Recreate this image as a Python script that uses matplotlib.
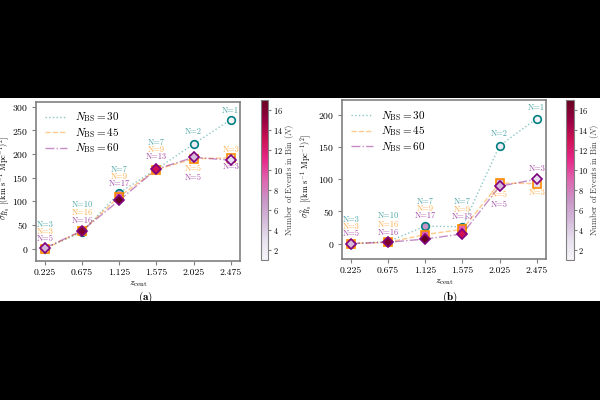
import numpy as np
import matplotlib
matplotlib.use("Agg")
import matplotlib.pyplot as plt
from matplotlib.patches import Rectangle
from matplotlib.colors import Normalize

plt.rcParams['font.family'] = 'serif'
plt.rcParams['font.serif'] = ['cmr10', 'DejaVu Serif']
plt.rcParams['mathtext.fontset'] = 'cm'
plt.rcParams['axes.formatter.use_mathtext'] = True

# data
z_cent = [0.225, 0.675, 1.125, 1.575, 2.025, 2.475]
n_bs = [30, 45, 60]

# panel (a)
sig_a_30 = [0, 35, 118, 168, 221, 273]
sig_a_45 = [0, 37, 110, 167, 190, 192]
sig_a_60 = [1, 38, 102, 168, 193, 187]

# panel (b)
sig_b_30 = [0, 3, 27, 26, 152, 194]
sig_b_45 = [0, 2, 14, 22, 94, 93]
sig_b_60 = [0, 2, 7, 15, 89, 100]

# events per bin
n_30 = [3, 10, 7, 7, 2, 1]
n_45 = [3, 16, 9, 9, 5, 3]
n_60 = [5, 16, 17, 13, 5, 3]

# label offsets in pixels (positive = above the point)
off_a = [[23, 26, 23, 26, 12, 9],
         [16, 18, 16, 19, -10, 8],
         [9, 10, 9, 12, -20, -7]]
off_b = [[24, 26, 24, 25, 12, 11],
         [17, 17, 17, 17, -12, -9],
         [10, 9, 10, 10, -19, 10]]

edge_cols = ['teal', 'darkorange', 'purple']
markers = ['o', 's', 'D']
msizes = [5.5, 5.5, 5.2]
styles = [':', '--', '-.']
cmap = plt.get_cmap('PuRd')
norm = Normalize(vmin=1, vmax=17)
grey = '#808080'

fig = plt.figure(figsize=(6, 4), dpi=100, facecolor='black')
fig.patches.append(Rectangle((0, 0.2475), 1, 0.508, transform=fig.transFigure,
                             facecolor='white', edgecolor='none', zorder=-10))


def draw_panel(ax, cax, series, counts, offsets, ylim, yticks, tag, xc, ylab_x, cblab_x):
    for i in range(3):
        ax.plot(z_cent, series[i], ls=styles[i], color=edge_cols[i], alpha=0.45,
                lw=1, label=r'$N_{\rm BS} = %d$' % n_bs[i], zorder=2 + i)
        for x, y, n in zip(z_cent, series[i], counts[i]):
            ax.plot(x, y, marker=markers[i], ms=msizes[i], mfc=cmap(norm(n)),
                    mec=edge_cols[i], mew=1.2, ls='none', zorder=5 + i)
    # labels are stacked above the highest point (or below the lowest) of each bin
    for j in range(len(z_cent)):
        ys = [series[i][j] for i in range(3)]
        for i in range(3):
            d = offsets[i][j]
            ref = max(ys) if d > 0 else min(ys)
            if j >= 4:
                ref = series[i][j]
            ax.annotate('N=%d' % counts[i][j], (z_cent[j], ref), xytext=(0, d * 0.72),
                        textcoords='offset points', ha='center', va='center',
                        fontsize=6, color=edge_cols[i], alpha=0.7, zorder=10)
    ax.set_xticks(z_cent)
    ax.set_xticklabels(['%.3f' % z for z in z_cent])
    ax.set_ylim(*ylim)
    ax.set_yticks(yticks)
    ax.tick_params(labelsize=7, color=grey, length=3, pad=2.5)
    for s in ax.spines.values():
        s.set_color(grey)
        s.set_linewidth(1.2)
    ax.set_xlabel(r'$z_{\rm cent}$', fontsize=7, labelpad=1.5)
    ax.set_ylabel(r'$\sigma^2_{H_0}$ [(km s$^{-1}$ Mpc$^{-1}$)$^2$]', fontsize=6)
    ax.yaxis.set_label_coords(ylab_x, 0.52)
    ax.legend(loc='upper left', frameon=False, fontsize=8, handlelength=2.0,
              handletextpad=0.7, labelspacing=0.15, borderaxespad=0.4)
    sm = plt.cm.ScalarMappable(norm=norm, cmap=cmap)
    cb = fig.colorbar(sm, cax=cax)
    cb.set_ticks([2, 4, 6, 8, 10, 12, 14, 16])
    cb.ax.tick_params(labelsize=6, color=grey, length=2, pad=1.5)
    cb.outline.set_edgecolor(grey)
    cb.set_label(r'Number of Events in Bin ($N$)', fontsize=6.2, color='#404040')
    cax.yaxis.set_label_coords(cblab_x, 0.5)
    fig.text(xc, 0.257, r'$\mathbf{(%s)}$' % tag, ha='center', va='center', fontsize=8)


ax_a = fig.add_axes([0.0595, 0.348, 0.3405, 0.398])
cax_a = fig.add_axes([0.435, 0.35, 0.012, 0.40])
ax_b = fig.add_axes([0.5695, 0.3525, 0.3405, 0.3975])
cax_b = fig.add_axes([0.943, 0.35, 0.013, 0.40])

draw_panel(ax_a, cax_a, [sig_a_30, sig_a_45, sig_a_60], [n_30, n_45, n_60], off_a,
           (-26, 311), [0, 50, 100, 150, 200, 250, 300], 'a', 0.2417, -0.11, 3.1)
draw_panel(ax_b, cax_b, [sig_b_30, sig_b_45, sig_b_60], [n_30, n_45, n_60], off_b,
           (-24, 223), [0, 50, 100, 150, 200], 'b', 0.75, -0.13, 2.9)

fig.savefig('out.png', dpi=100, facecolor='black')
